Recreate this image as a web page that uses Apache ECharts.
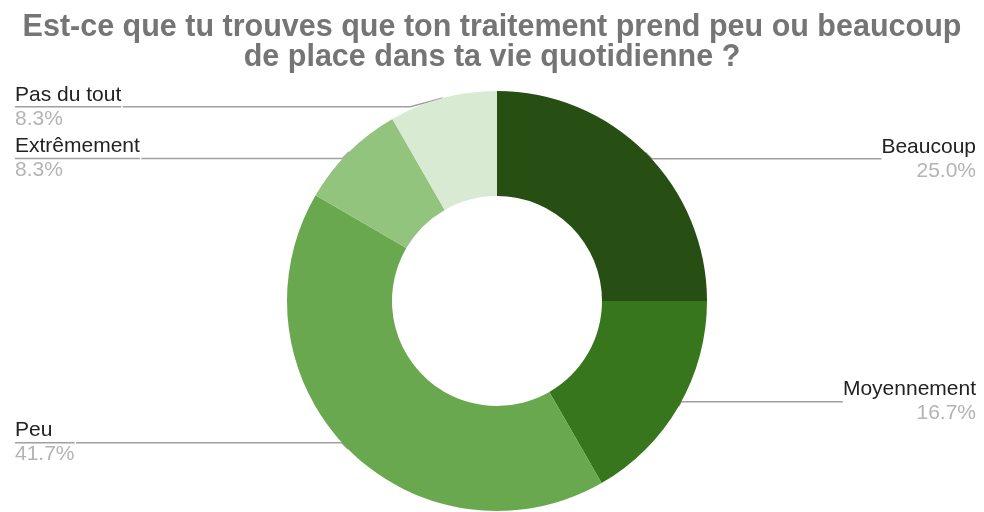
<!DOCTYPE html>
<html>
<head>
<meta charset="utf-8">
<script src="https://cdn.jsdelivr.net/npm/echarts@6/dist/echarts.min.js"></script>
<style>
  html, body { margin: 0; padding: 0; background: #fff; }
  #chart { width: 984px; height: 512px; }
</style>
</head>
<body>
<div id="chart"></div>
<script>
// Survey answers, clockwise from 12 o'clock
const categories = ['Beaucoup', 'Moyennement', 'Peu', 'Extrêmement', 'Pas du tout'];
const percentages = [25.0, 16.7, 41.7, 8.3, 8.3];
const sliceColors = ['#274e13', '#38761d', '#6aa84f', '#93c47d', '#d9ead3'];
const titleText = 'Est-ce que tu trouves que ton traitement prend peu ou beaucoup\nde place dans ta vie quotidienne ?';

const total = percentages.reduce((a, b) => a + b, 0);
let running = 0;
const pieData = categories.map((name, i) => {
  const mid = running + percentages[i] / 2;
  running += percentages[i];
  const onLeft = mid / total > 0.5;
  return {
    name: name,
    value: percentages[i],
    itemStyle: { color: sliceColors[i] },
    label: {
      edgeDistance: onLeft ? 15 : 8,
      rich: {
        // left-hand labels carry the leader line underneath their name
        hr: {
          width: '100%',
          height: 0,
          borderWidth: onLeft ? 1.5 : 0,
          borderColor: '#a0a0a0'
        }
      }
    }
  };
});

const chart = echarts.init(document.getElementById('chart'), null, { renderer: 'canvas' });
chart.setOption({
  backgroundColor: '#ffffff',
  animation: false,
  title: {
    text: titleText,
    left: 'center',
    top: 8,
    textStyle: {
      fontFamily: 'Liberation Sans, Arial, sans-serif',
      fontSize: 30.5,
      fontWeight: 'bold',
      lineHeight: 30,
      color: '#757575'
    }
  },
  series: [{
    type: 'pie',
    center: [497, 301],
    radius: [105, 210],
    startAngle: 90,
    clockwise: true,
    avoidLabelOverlap: true,
    data: pieData,
    label: {
      show: true,
      position: 'outer',
      alignTo: 'edge',
      distanceToLabelLine: 0,
      formatter: p => '{n|' + p.name + '}\n{hr|}\n{p|' + p.value.toFixed(1) + '%}',
      rich: {
        n: { fontFamily: 'Liberation Sans, Arial, sans-serif', fontSize: 21, color: '#222222', lineHeight: 24 },
        p: { fontFamily: 'Liberation Sans, Arial, sans-serif', fontSize: 21, color: '#b4b4b4', lineHeight: 24 }
      }
    },
    labelLine: {
      show: true,
      length: -9,
      length2: 10,
      lineStyle: { color: '#a0a0a0', width: 1.5 }
    },
    emphasis: { disabled: true }
  }]
});
</script>
</body>
</html>
